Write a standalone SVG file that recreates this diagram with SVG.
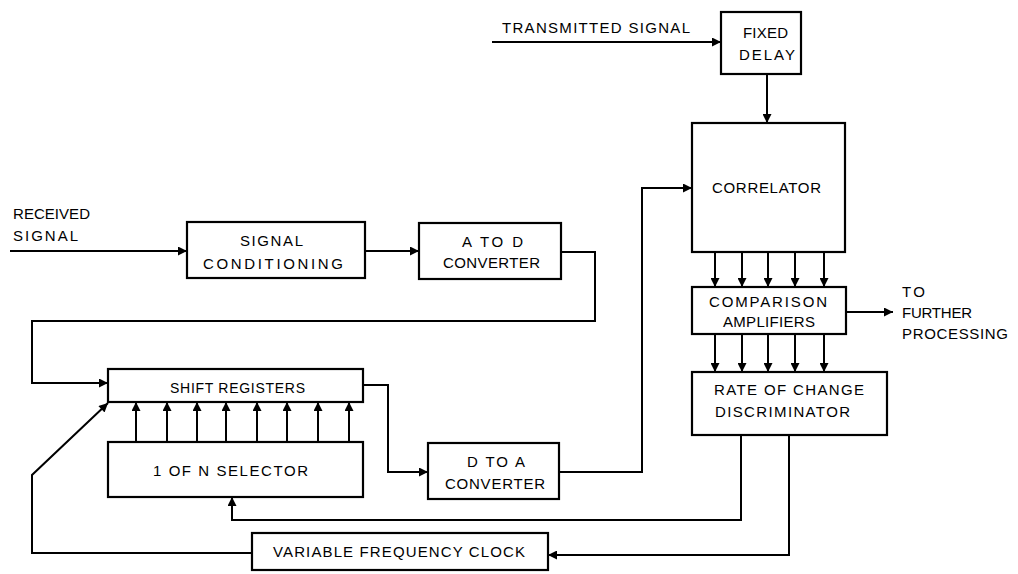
<svg xmlns="http://www.w3.org/2000/svg" width="1018" height="574" viewBox="0 0 1018 574">
<defs>
<marker id="arr" viewBox="0 0 10 10" refX="10" refY="5" markerWidth="11" markerHeight="9" markerUnits="userSpaceOnUse" orient="auto">
<path d="M0,0 L10,5 L0,10 Z" fill="#000"/>
</marker>
<style>
.box{fill:#fff;stroke:#000;stroke-width:2.2}
.ln{fill:none;stroke:#000;stroke-width:2}
.ar{fill:none;stroke:#000;stroke-width:2;marker-end:url(#arr)}
text{font-family:"Liberation Sans",Arial,sans-serif;font-size:15px;fill:#000}
.s{font-size:14px}
</style>
</defs>
<rect width="1018" height="574" fill="#fff"/>
<g id="connectors">
<path class="ar" d="M492 42 H721"/>
<path class="ar" d="M767 74 V123"/>
<path class="ar" d="M10 251 H187"/>
<path class="ar" d="M365 251 H419"/>
<path class="ar" d="M561 252 H595 V321 H32 V383 H108"/>
<path class="ar" d="M363 385 H388 V472 H428"/>
<path class="ar" d="M559 472 H642 V188 H692"/>
<path class="ar" d="M715 252 V287"/>
<path class="ar" d="M742 252 V287"/>
<path class="ar" d="M768 252 V287"/>
<path class="ar" d="M795 252 V287"/>
<path class="ar" d="M824 252 V287"/>
<path class="ar" d="M715 334 V372"/>
<path class="ar" d="M742 334 V372"/>
<path class="ar" d="M768 334 V372"/>
<path class="ar" d="M795 334 V372"/>
<path class="ar" d="M824 334 V372"/>
<path class="ar" d="M846 312 H893"/>
<path class="ar" d="M136 442 V402"/>
<path class="ar" d="M167 442 V402"/>
<path class="ar" d="M197 442 V402"/>
<path class="ar" d="M226 442 V402"/>
<path class="ar" d="M257 442 V402"/>
<path class="ar" d="M287 442 V402"/>
<path class="ar" d="M318 442 V402"/>
<path class="ar" d="M349 442 V402"/>
<path class="ar" d="M741 435 V520 H232 V497"/>
<path class="ar" d="M789 435 V555 H548"/>
<path class="ar" d="M252 553 H32 V475 L108 403"/>
<text x="502" y="33" textLength="188" lengthAdjust="spacing">TRANSMITTED SIGNAL</text>
<text x="13" y="219" textLength="77" lengthAdjust="spacing">RECEIVED</text>
<text x="13" y="241" textLength="65" lengthAdjust="spacing">SIGNAL</text>
<text x="902" y="297" textLength="23" lengthAdjust="spacing">TO</text>
<text x="902" y="318" textLength="70" lengthAdjust="spacing">FURTHER</text>
<text x="902" y="339" textLength="106" lengthAdjust="spacing">PROCESSING</text>
</g>
<g id="fixed-delay">
<rect class="box" x="721" y="12" width="80" height="62"/>
<text x="743" y="38" textLength="45" lengthAdjust="spacing">FIXED</text>
<text x="739" y="60" textLength="56" lengthAdjust="spacing">DELAY</text>
</g>
<g id="correlator">
<rect class="box" x="692" y="123" width="153" height="129"/>
<text x="712" y="193" textLength="109" lengthAdjust="spacing">CORRELATOR</text>
</g>
<g id="comparison-amplifiers">
<rect class="box" x="692" y="287" width="154" height="47"/>
<text x="709" y="307" textLength="118" lengthAdjust="spacing">COMPARISON</text>
<text x="723" y="327" textLength="92" lengthAdjust="spacing">AMPLIFIERS</text>
</g>
<g id="rate-of-change">
<rect class="box" x="692" y="372" width="195" height="63"/>
<text x="714" y="395" textLength="150" lengthAdjust="spacing">RATE OF CHANGE</text>
<text x="715" y="417" textLength="135" lengthAdjust="spacing">DISCRIMINATOR</text>
</g>
<g id="signal-conditioning">
<rect class="box" x="187" y="222" width="178" height="56"/>
<text x="240" y="246" textLength="63" lengthAdjust="spacing">SIGNAL</text>
<text x="203" y="269" textLength="140" lengthAdjust="spacing">CONDITIONING</text>
</g>
<g id="a-to-d">
<rect class="box" x="419" y="223" width="142" height="56"/>
<text x="462" y="247" textLength="61" lengthAdjust="spacing">A TO D</text>
<text x="443" y="268" textLength="97" lengthAdjust="spacing">CONVERTER</text>
</g>
<g id="shift-registers">
<rect class="box" x="108" y="369" width="255" height="33"/>
<text class="s" x="170" y="393" textLength="135" lengthAdjust="spacing">SHIFT REGISTERS</text>
</g>
<g id="selector">
<rect class="box" x="108" y="442" width="255" height="55"/>
<text x="153" y="476" textLength="155" lengthAdjust="spacing">1 OF N SELECTOR</text>
</g>
<g id="d-to-a">
<rect class="box" x="428" y="443" width="131" height="56"/>
<text x="467" y="467" textLength="58" lengthAdjust="spacing">D TO A</text>
<text x="445" y="489" textLength="100" lengthAdjust="spacing">CONVERTER</text>
</g>
<g id="clock">
<rect class="box" x="252" y="533" width="296" height="37"/>
<text x="273" y="557" textLength="252" lengthAdjust="spacing">VARIABLE FREQUENCY CLOCK</text>
</g>
</svg>
